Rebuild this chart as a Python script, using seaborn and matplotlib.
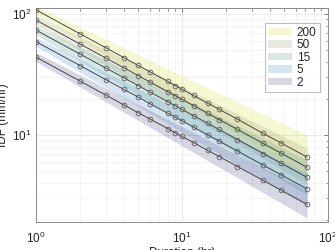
import matplotlib
matplotlib.use("Agg")
import matplotlib.pyplot as plt
import numpy as np
import pandas as pd
import seaborn as sns

# ---------------- data ----------------
durations = [1, 2, 3, 4, 5, 6, 8, 9, 10, 12, 15, 18, 24, 36, 48, 72]
return_periods = ["200", "50", "15", "5", "2"]

idf_200 = [108, 68.6, 52.6, 43.6, 37.6, 33.4, 27.7, 25.6, 23.9, 21.2, 18.3, 16.3, 13.5, 10.3, 8.55, 6.56]
idf_50 = [89, 56.5, 43.3, 35.9, 31.0, 27.5, 22.8, 21.1, 19.7, 17.5, 15.1, 13.4, 11.1, 8.51, 7.05, 5.40]
idf_15 = [73.5, 46.7, 35.8, 29.7, 25.6, 22.7, 18.8, 17.4, 16.3, 14.4, 12.5, 11.1, 9.17, 7.03, 5.82, 4.46]
idf_5 = [59, 37.5, 28.7, 23.8, 20.6, 18.2, 15.1, 14.0, 13.1, 11.6, 10.0, 8.89, 7.36, 5.64, 4.67, 3.58]
idf_2 = [44, 27.9, 21.4, 17.7, 15.3, 13.6, 11.3, 10.4, 9.74, 8.64, 7.47, 6.63, 5.49, 4.21, 3.48, 2.67]

band_durations = [1, 72]
band_200_lo = [100, 4.6]
band_200_hi = [116, 10.0]
band_50_lo = [82, 3.9]
band_50_hi = [97, 7.8]
band_15_lo = [67, 3.2]
band_15_hi = [80, 6.2]
band_5_lo = [54, 2.6]
band_5_hi = [64, 4.8]
band_2_lo = [40.5, 2.06]
band_2_hi = [48, 3.5]

series = {"200": idf_200, "50": idf_50, "15": idf_15, "5": idf_5, "2": idf_2}
bands = {
    "200": (band_200_lo, band_200_hi),
    "50": (band_50_lo, band_50_hi),
    "15": (band_15_lo, band_15_hi),
    "5": (band_5_lo, band_5_hi),
    "2": (band_2_lo, band_2_hi),
}
band_colors = {"200": "#d8dc3a", "50": "#a0a068", "15": "#4b9c88", "5": "#4a8cc8", "2": "#505088"}

# ---------------- figure ----------------
sns.set_style("white")
plt.rcParams["font.family"] = ["Liberation Sans", "DejaVu Sans"]
plt.rcParams["mathtext.fontset"] = "custom"
plt.rcParams["mathtext.rm"] = "Liberation Sans"

fig = plt.figure(figsize=(3.35, 2.5), dpi=100)
ax = fig.add_axes([0.1075, 0.112, 0.8715, 0.856])

ax.set_xscale("log")
ax.set_yscale("log")

handles = []
for rp in return_periods:
    lo, hi = bands[rp]
    h = ax.fill_between(band_durations, lo, hi, color=band_colors[rp], alpha=0.22,
                        linewidth=0, label=rp, zorder=1)
    handles.append(h)

rows = []
for rp in return_periods:
    for d, v in zip(durations, series[rp]):
        rows.append({"Duration": d, "IDF": v, "RP": rp})
df = pd.DataFrame(rows)

sns.lineplot(data=df, x="Duration", y="IDF", hue="RP",
             palette={rp: "#303030" for rp in return_periods},
             marker="o", markersize=3.4, markerfacecolor="none",
             markeredgecolor="#5a5a5a", markeredgewidth=0.6,
             linewidth=0.6, legend=False, ax=ax, zorder=3)

ax.set_xlim(1, 100)
ax.set_ylim(1.91, 112)

ax.grid(which="major", color="#e2e2e2", linewidth=0.5, zorder=0)
ax.grid(which="minor", color="#f1f1f1", linewidth=0.5, zorder=0)
ax.set_axisbelow(True)

ax.tick_params(which="both", direction="in", top=True, right=True,
               colors="#6a6a6a", labelcolor="#222222", labelsize=8.5)
ax.tick_params(which="major", length=3, width=0.6)
ax.tick_params(which="minor", length=1.8, width=0.5)
ax.tick_params(axis="x", pad=6)
for s in ax.spines.values():
    s.set_color("#8a8a8a")
    s.set_linewidth(0.7)

ax.set_xlabel("Duration (hr)", fontsize=8.5, color="#222222", labelpad=1)
ax.set_ylabel("IDF (mm/hr)", fontsize=8.5, color="#222222", labelpad=2)

leg = ax.legend(handles=handles, labels=return_periods, loc="upper right",
                bbox_to_anchor=(0.973, 0.93), borderaxespad=0,
                fontsize=8.5, frameon=True, fancybox=False,
                handlelength=2.0, handleheight=0.6, labelspacing=0.05,
                handletextpad=0.4, borderpad=0.3)
leg.get_frame().set_edgecolor("#9a9a9a")
leg.get_frame().set_linewidth(0.6)

fig.savefig("out.png", dpi=100)
